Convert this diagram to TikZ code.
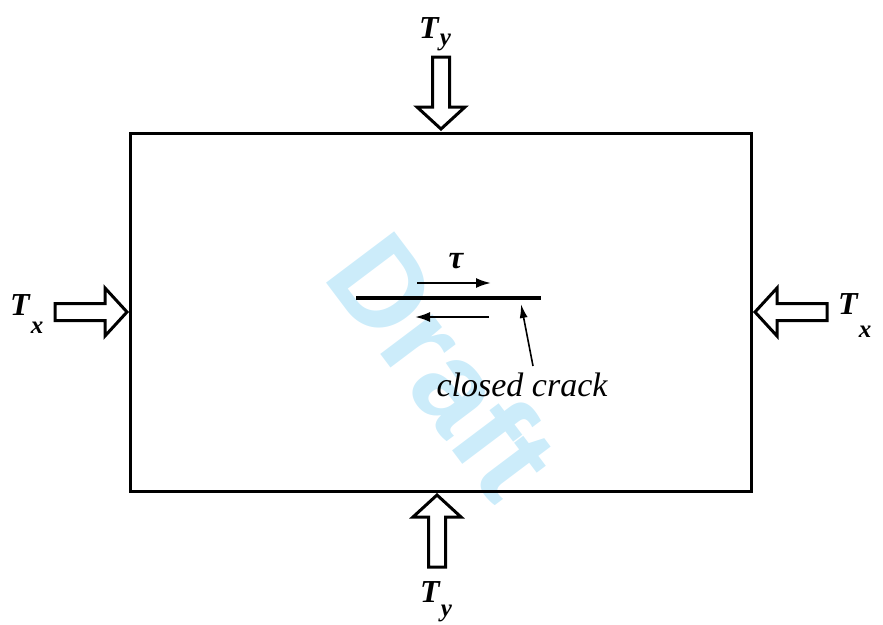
\documentclass[tikz,border=0pt]{standalone}
\usepackage{fontspec}
\setmainfont{Liberation Serif}
\newfontfamily\wmfont{Liberation Sans}
\usetikzlibrary{arrows.meta}
\definecolor{wmblue}{RGB}{204,236,250}
% load label: bold italic T with a lowered subscript
\newcommand{\loadname}[2]{\textbf{\textit{T}}\raisebox{-#2pt}{\fontsize{25}{25}\selectfont\textbf{\textit{#1}}}}

\begin{document}
\begin{tikzpicture}[x=1pt,y=-1pt,
    lbl/.style={font=\fontsize{32}{32}\selectfont,inner sep=0pt,anchor=base west},
    plate/.style={line width=3pt},
    shear/.style={line width=2.2pt,-{Latex[length=15pt,width=10pt]}},
    pointer/.style={line width=1.6pt,-{Latex[length=14pt,width=8pt]}},
    blockarrow/.pic={
        \draw[line width=3pt,line join=miter] (-72,-8.5) -- (-22,-8.5) -- (-22,-24)
            -- (0,0) -- (-22,24) -- (-22,8.5) -- (-72,8.5) -- cycle;
    }]
    \useasboundingbox (0,0) rectangle (883,624);

    % Watermark
    \node[text=wmblue,font=\wmfont\bfseries\fontsize{124}{124}\selectfont,rotate=-53]
        (draft) at (444,365) {Draft};

    % Plate
    \draw[plate] (130,133) rectangle (751,491);

    % Loads
    \pic[rotate=-90] at (441,129) {blockarrow};
    \pic[rotate=90] at (437,495) {blockarrow};
    \pic at (127,312) {blockarrow};
    \pic[rotate=180] at (755,312) {blockarrow};

    \node[lbl] (tytop) at (419,38) {\loadname{y}{7}};
    \node[lbl] (tybot) at (420,602) {\loadname{y}{14}};
    \node[lbl] (txleft) at (10,315) {\loadname{x}{18}};
    \node[lbl] (txright) at (838,314) {\loadname{x}{23}};

    % Crack
    \coordinate (crackL) at (356,298);
    \coordinate (crackR) at (541,298);
    \draw[line width=4.5pt] (crackL) -- (crackR);

    % Shear
    \coordinate (upL) at (417,283);
    \coordinate (upR) at (491,283);
    \coordinate (loL) at (415,317);
    \coordinate (loR) at (489,317);
    \draw[shear] (upL) -- (upR);
    \draw[shear] (loR) -- (loL);
    \node[font=\fontsize{33}{33}\selectfont\bfseries\itshape] (tau) at (456,261) {τ};

    % Label
    \node[font=\fontsize{34}{34}\selectfont\itshape] (crack) at (522,385) {closed crack};
    \coordinate (ptail) at (533,366);
    \coordinate (ptip) at (521,304);
    \draw[pointer] (ptail) -- (ptip);
\end{tikzpicture}
\end{document}
